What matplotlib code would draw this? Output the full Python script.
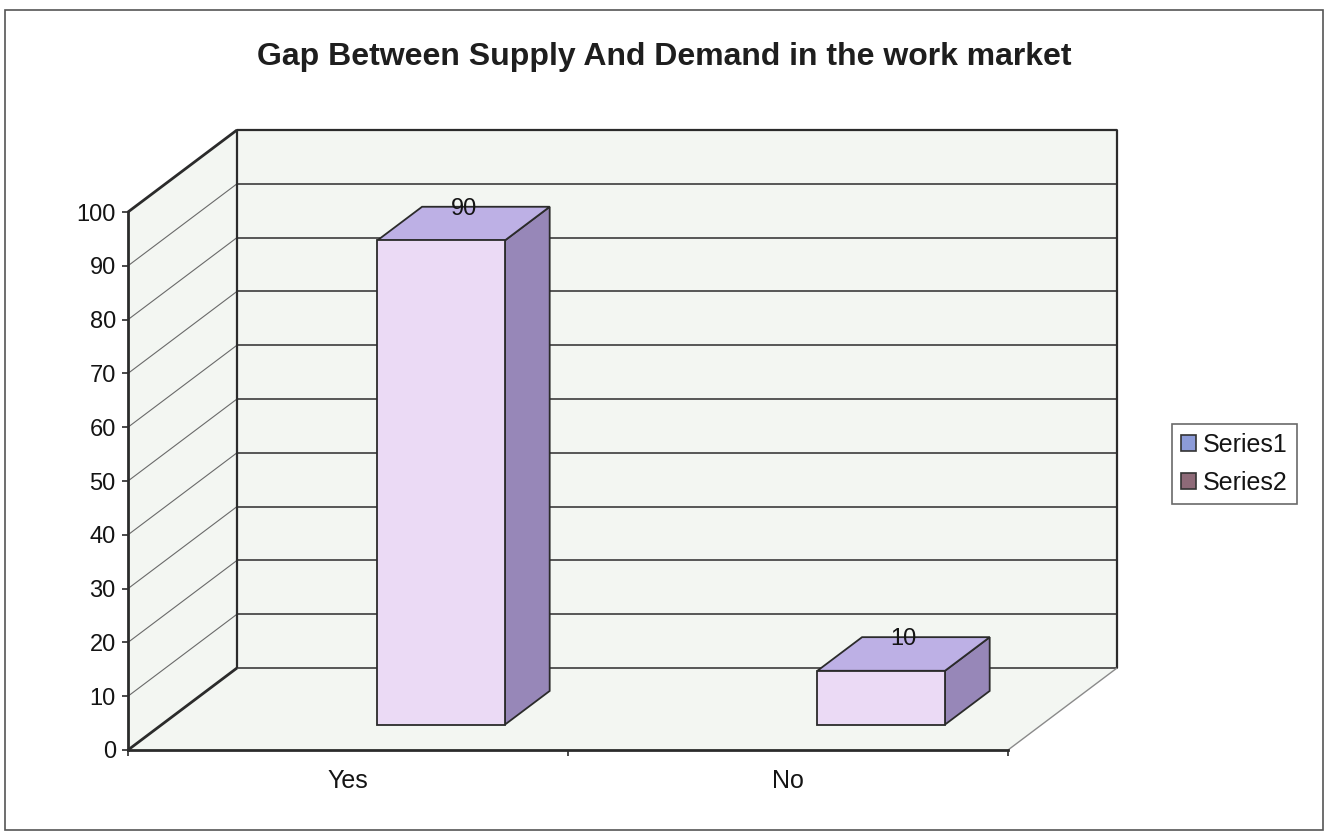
import matplotlib
matplotlib.use("Agg")
import matplotlib.pyplot as plt
from matplotlib.patches import Polygon, Patch, Rectangle

plt.rcParams['font.family'] = ['Liberation Sans', 'DejaVu Sans']

# DATA
title = "Gap Between Supply And Demand in the work market"
categories = ["Yes", "No"]
series_names = ["Series1", "Series2"]
series1_values = [0, 0]
series2_values = [90, 10]
y_ticks = list(range(0, 101, 10))

# LOOK
W_PX, H_PX = 1329, 832
X0_PX, Y0_PX = 128, 82          # front origin (pixels from left / bottom)
PX_PER_CAT = 440
PX_PER_VAL = 5.38
DEPTH_DX = 109 / PX_PER_CAT     # full depth shift, category units
DEPTH_DY = 82 / PX_PER_VAL      # full depth shift, value units
BAR_OFF, BAR_W = 0.49, 0.29     # series2 slot inside category
BAR_D0, BAR_D1 = 0.31, 0.72

WALL = "#F3F6F2"
EDGE = "#2b2b2b"
GRID = "#4a4a4a"
TXT = "#141414"
FRONT, TOP, SIDE = "#EBDAF5", "#BDB0E5", "#9787B8"
LEG_COLORS = ["#8C9BD8", "#8E6A78"]


def P(x, v, d):
    return (x + d * DEPTH_DX, v + d * DEPTH_DY)


fig = plt.figure(figsize=(W_PX / 100, H_PX / 100), dpi=100)
ax = fig.add_axes([0, 0, 1, 1])
ax.set_xlim(-X0_PX / PX_PER_CAT, (W_PX - X0_PX) / PX_PER_CAT)
ax.set_ylim(-Y0_PX / PX_PER_VAL, (H_PX - Y0_PX) / PX_PER_VAL)
ax.patch.set_alpha(0)

ncat = len(categories)
vmax = y_ticks[-1]

# walls + floor
side = [P(0, 0, 0), P(0, vmax, 0), P(0, vmax, 1), P(0, 0, 1)]
floor = [P(0, 0, 0), P(ncat, 0, 0), P(ncat, 0, 1), P(0, 0, 1)]
back = [P(0, 0, 1), P(ncat, 0, 1), P(ncat, vmax, 1), P(0, vmax, 1)]
for poly in (side, floor, back):
    ax.add_patch(Polygon(poly, closed=True, fc=WALL, ec="none", zorder=1))

# gridlines
for v in y_ticks:
    (xa, ya), (xb, yb) = P(0, v, 1), P(ncat, v, 1)
    ax.plot([xa, xb], [ya, yb], color=GRID, lw=1.3, zorder=2)
    (xa, ya), (xb, yb) = P(0, v, 0), P(0, v, 1)
    ax.plot([xa, xb], [ya, yb], color="#6a6a6a", lw=0.8, zorder=2)

# wall edges
def edge(p, q, color=EDGE, lw=1.6):
    ax.plot([p[0], q[0]], [p[1], q[1]], color=color, lw=lw, zorder=2.2,
            solid_capstyle="butt")

edge(P(0, 0, 1), P(0, vmax, 1))
edge(P(ncat, 0, 1), P(ncat, vmax, 1))
edge(P(0, vmax, 1), P(ncat, vmax, 1))
edge(P(0, vmax, 0), P(0, vmax, 1), lw=2)
edge(P(0, 0, 0), P(0, 0, 1), lw=2)
edge(P(ncat, 0, 0), P(ncat, 0, 1), color="#8a8a8a", lw=1)

# bars
for i, v in enumerate(series2_values):
    x0 = i + BAR_OFF
    x1 = x0 + BAR_W
    front = [P(x0, 0, BAR_D0), P(x1, 0, BAR_D0), P(x1, v, BAR_D0), P(x0, v, BAR_D0)]
    top = [P(x0, v, BAR_D0), P(x1, v, BAR_D0), P(x1, v, BAR_D1), P(x0, v, BAR_D1)]
    rside = [P(x1, 0, BAR_D0), P(x1, 0, BAR_D1), P(x1, v, BAR_D1), P(x1, v, BAR_D0)]
    for poly, c in ((rside, SIDE), (top, TOP), (front, FRONT)):
        ax.add_patch(Polygon(poly, closed=True, fc=c, ec=EDGE, lw=1.3,
                             joinstyle="miter", zorder=3))
    ax.annotate(str(v), P((x0 + x1) / 2, v, (BAR_D0 + BAR_D1) / 2),
                xytext=(0, 10.5), textcoords="offset points",
                ha="center", va="center", fontsize=17, color=TXT, zorder=4)

# axes
for s in ("top", "right"):
    ax.spines[s].set_visible(False)
ax.spines["left"].set_position(("data", 0))
ax.spines["left"].set_bounds(0, vmax)
ax.spines["bottom"].set_position(("data", 0))
ax.spines["bottom"].set_bounds(0, ncat)
for s in ("left", "bottom"):
    ax.spines[s].set_linewidth(2)
    ax.spines[s].set_color(EDGE)

ax.set_yticks(y_ticks)
ax.set_yticklabels([str(t) for t in y_ticks])
ax.set_xticks(range(ncat + 1))
ax.set_xticklabels([""] * (ncat + 1))
ax.set_xticks([i + 0.5 for i in range(ncat)], minor=True)
ax.set_xticklabels(categories, minor=True)
ax.tick_params(axis="both", which="major", direction="out", length=4.3,
               width=1.2, color=EDGE, labelsize=17, pad=4.5, labelcolor=TXT)
ax.tick_params(axis="x", which="minor", length=0, labelsize=18, pad=14,
               labelcolor=TXT)

# title
fig.text(0.5, 1 - 57 / H_PX, title, ha="center", va="center",
         fontsize=23, fontweight="bold", color="#1e1e1e")

# legend
handles = [Patch(fc=c, ec="#333333", lw=1.2) for c in LEG_COLORS]
leg = fig.legend(handles, series_names, loc="center left",
                 bbox_to_anchor=(1172 / W_PX, 1 - 464 / H_PX),
                 fontsize=18, frameon=True, fancybox=False,
                 handlelength=0.6, handleheight=0.6, handletextpad=0.3,
                 labelspacing=0.55, borderpad=0.35, borderaxespad=0)
for t in leg.get_texts():
    t.set_color(TXT)
leg.get_frame().set_edgecolor("#444444")
leg.get_frame().set_linewidth(1.2)

# chart area border
fig.patches.append(Rectangle((5 / W_PX, 2 / H_PX), 1318 / W_PX, 820 / H_PX,
                             transform=fig.transFigure, fill=False,
                             ec="#555555", lw=1.2))

fig.savefig("out.png", dpi=100)
